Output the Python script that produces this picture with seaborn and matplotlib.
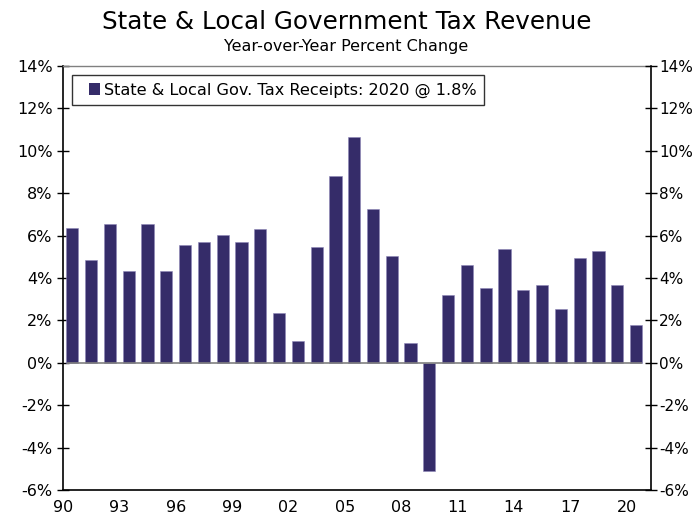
import matplotlib
matplotlib.use("Agg")
import matplotlib.pyplot as plt
from matplotlib.legend_handler import HandlerPatch
from matplotlib.patches import Rectangle
import seaborn as sns
import pandas as pd
import numpy as np

years = list(range(1990, 2021))
values = [6.37, 4.84, 6.53, 4.31, 6.53, 4.32, 5.58, 5.68, 6.01, 5.72, 6.29,
          2.34, 1.04, 5.44, 8.82, 10.65, 7.24, 5.05, 0.93, -5.10, 3.21,
          4.59, 3.52, 5.36, 3.43, 3.65, 2.52, 4.92, 5.28, 3.68, 1.76]
xtick_labels = ['90', '93', '96', '99', '02', '05', '08', '11', '14', '17', '20']
yticks = [-6, -4, -2, 0, 2, 4, 6, 8, 10, 12, 14]
title = "State & Local Government Tax Revenue"
subtitle = "Year-over-Year Percent Change"
series_label = "State & Local Gov. Tax Receipts: 2020 @ 1.8%"

df = pd.DataFrame({"year": [str(y) for y in years], "value": values})

sns.set_style("white")
plt.rcParams['font.family'] = ['DejaVu Sans']
plt.rcParams['text.color'] = 'black'
plt.rcParams['xtick.color'] = 'black'
plt.rcParams['ytick.color'] = 'black'
plt.rcParams['axes.labelcolor'] = 'black'

fig = plt.figure(figsize=(6.93, 5.19), dpi=100)
ax = fig.add_axes([63/693, 1-490/519, (651-63)/693, (490-66)/519])

bar_color = "#352C69"
sns.barplot(data=df, x="year", y="value", color=bar_color, width=0.65,
            saturation=1, ax=ax, label=series_label, edgecolor="#8E86B8",
            linewidth=0.4)

ax.set_xlim(-0.5, 30.8)
ax.set_ylim(-6, 14)
ax.set_xticks([i - 0.5 for i in range(0, 31, 3)])
ax.set_xticklabels(xtick_labels, fontsize=11.5)
ax.set_yticks(yticks)
ax.set_yticklabels([f"{t}%" for t in yticks], fontsize=11.5)
ax.set_xlabel("")
ax.set_ylabel("")
ax.hlines(0, -0.3, 30.3, color="#808080", linewidth=1.2, zorder=3)

for s in ["left", "bottom", "right"]:
    ax.spines[s].set_color("black")
    ax.spines[s].set_linewidth(1.2)
ax.spines["top"].set_color("#808080")
ax.spines["top"].set_linewidth(1.0)
ax.tick_params(axis="both", direction="inout", length=9, width=1.0, color="black", pad=3)

ax2 = ax.twinx()
ax2.set_ylim(-6, 14)
ax2.set_yticks(yticks)
ax2.set_yticklabels([f"{t}%" for t in yticks], fontsize=11)
ax2.tick_params(axis="y", direction="inout", length=9, width=1.0, color="black", pad=1.5)
for s in ax2.spines.values():
    s.set_visible(False)


class SquareHandler(HandlerPatch):
    def create_artists(self, legend, orig_handle, xdescent, ydescent, width,
                       height, fontsize, trans):
        side = height * 1.0
        x0 = -xdescent + width - side
        y0 = -ydescent + (height - side) / 2
        p = Rectangle((x0, y0), side, side, facecolor=bar_color,
                      edgecolor="none", transform=trans)
        return [p]


handles, labels = ax.get_legend_handles_labels()
leg = ax.legend(handles[:1], labels[:1], loc="upper left",
                bbox_to_anchor=(0.015, 0.978), fontsize=11.6,
                frameon=True, fancybox=False, edgecolor="black",
                handlelength=1.3, handleheight=0.7, handletextpad=0.25,
                borderpad=0.45, borderaxespad=0,
                handler_map={type(handles[0]): SquareHandler()})
leg.get_frame().set_linewidth(1.0)

fig.text(0.5, 1 - 22/519, title, ha="center", va="center", fontsize=17.7)
fig.text(0.5, 1 - 47/519, subtitle, ha="center", va="center", fontsize=11.5)

fig.savefig("out.png", dpi=100)
